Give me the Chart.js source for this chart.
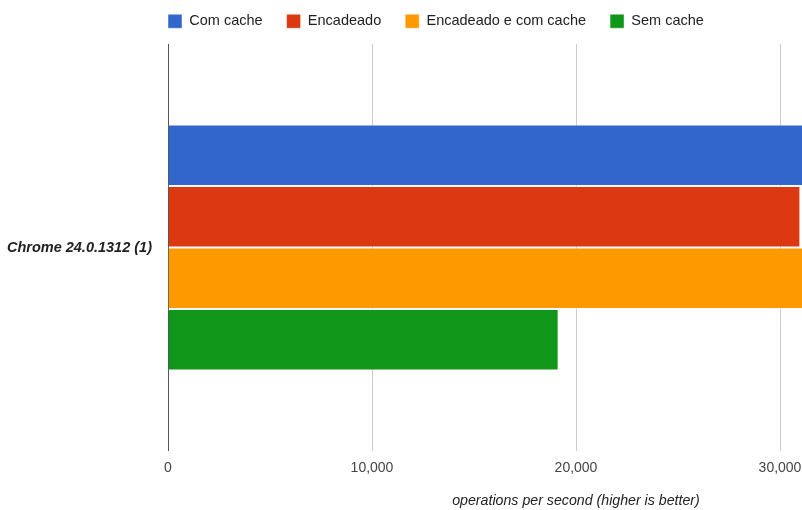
<!DOCTYPE html>
<html>
<head>
<meta charset="utf-8">
<script src="https://cdn.jsdelivr.net/npm/chart.js@4"></script>
<style>
html,body{margin:0;padding:0;background:#fff;overflow:hidden;}
#wrap{width:1000px;height:510px;position:relative;}
</style>
</head>
<body>
<div id="wrap"><canvas id="c"></canvas></div>
<script>
const categories = ["Chrome 24.0.1312 (1)"];
const seriesNames = ["Com cache", "Encadeado", "Encadeado e com cache", "Sem cache"];
const comCache = [31700];
const encadeado = [31000];
const encadeadoComCache = [31450];
const semCache = [19150];
const tickValues = [0, 10000, 20000, 30000];
const axisTitle = "operations per second (higher is better)";

const colors = ["#3366cc", "#dc3912", "#ff9900", "#109618"];
const seriesValues = [comCache, encadeado, encadeadoComCache, semCache];

const FONT = "'Liberation Sans', Arial, Helvetica, sans-serif";

const legendPlacer = {
  id: 'legendPlacer',
  afterInit(chart) {
    const lg = chart.legend;
    if (!lg) return;
    const fit = lg.fit.bind(lg);
    lg.fit = function () { fit(); this.height = 44; };
  },
  afterLayout(chart) {
    const lg = chart.legend;
    if (!lg) return;
    const pad = lg.options.labels.padding;
    const w = lg.right - lg.left;
    lg.left = 168 - pad;
    lg.right = lg.left + w;
    lg.top = 14 - pad;
  }
};

new Chart(document.getElementById('c'), {
  type: 'bar',
  data: {
    labels: categories,
    datasets: seriesNames.map((name, i) => ({
      label: name,
      data: seriesValues[i],
      backgroundColor: colors[i],
      borderColor: 'rgba(255,255,255,0.45)',
      borderWidth: 1,
      categoryPercentage: 0.604,
      barPercentage: 1.0
    }))
  },
  options: {
    indexAxis: 'y',
    responsive: true,
    maintainAspectRatio: false,
    animation: false,
    layout: { padding: { left: 0, right: 16, top: 0, bottom: 0 } },
    plugins: {
      legend: {
        position: 'top',
        align: 'start',
        labels: {
          boxWidth: 14,
          boxHeight: 14,
          padding: 24,
          color: '#222',
          font: { family: FONT, size: 14.5 }
        }
      },
      tooltip: { enabled: false }
    },
    scales: {
      x: {
        min: 0,
        max: 40000,
        afterBuildTicks(scale) { scale.ticks = tickValues.map(v => ({ value: v })); },
        afterFit(scale) { scale.height = 59; },
        grid: {
          drawTicks: false,
          color: ctx => (ctx.tick && ctx.tick.value === 0) ? '#555' : '#cccccc',
          lineWidth: 1
        },
        border: { display: false },
        ticks: {
          padding: 9,
          color: '#444',
          font: { family: FONT, size: 14 },
          maxRotation: 0,
          autoSkip: false,
          callback: v => v.toLocaleString('en-US')
        },
        title: {
          display: true,
          text: axisTitle,
          color: '#222',
          font: { family: FONT, size: 14.2, style: 'italic' },
          padding: { top: 4, bottom: 0 }
        }
      },
      y: {
        afterFit(scale) { scale.width = 168; },
        grid: { display: false, drawTicks: false },
        border: { display: false },
        ticks: {
          padding: 16,
          color: '#222',
          font: { family: FONT, size: 14.5, style: 'italic', weight: 'bold' }
        }
      }
    }
  },
  plugins: [legendPlacer]
});
</script>
</body>
</html>
